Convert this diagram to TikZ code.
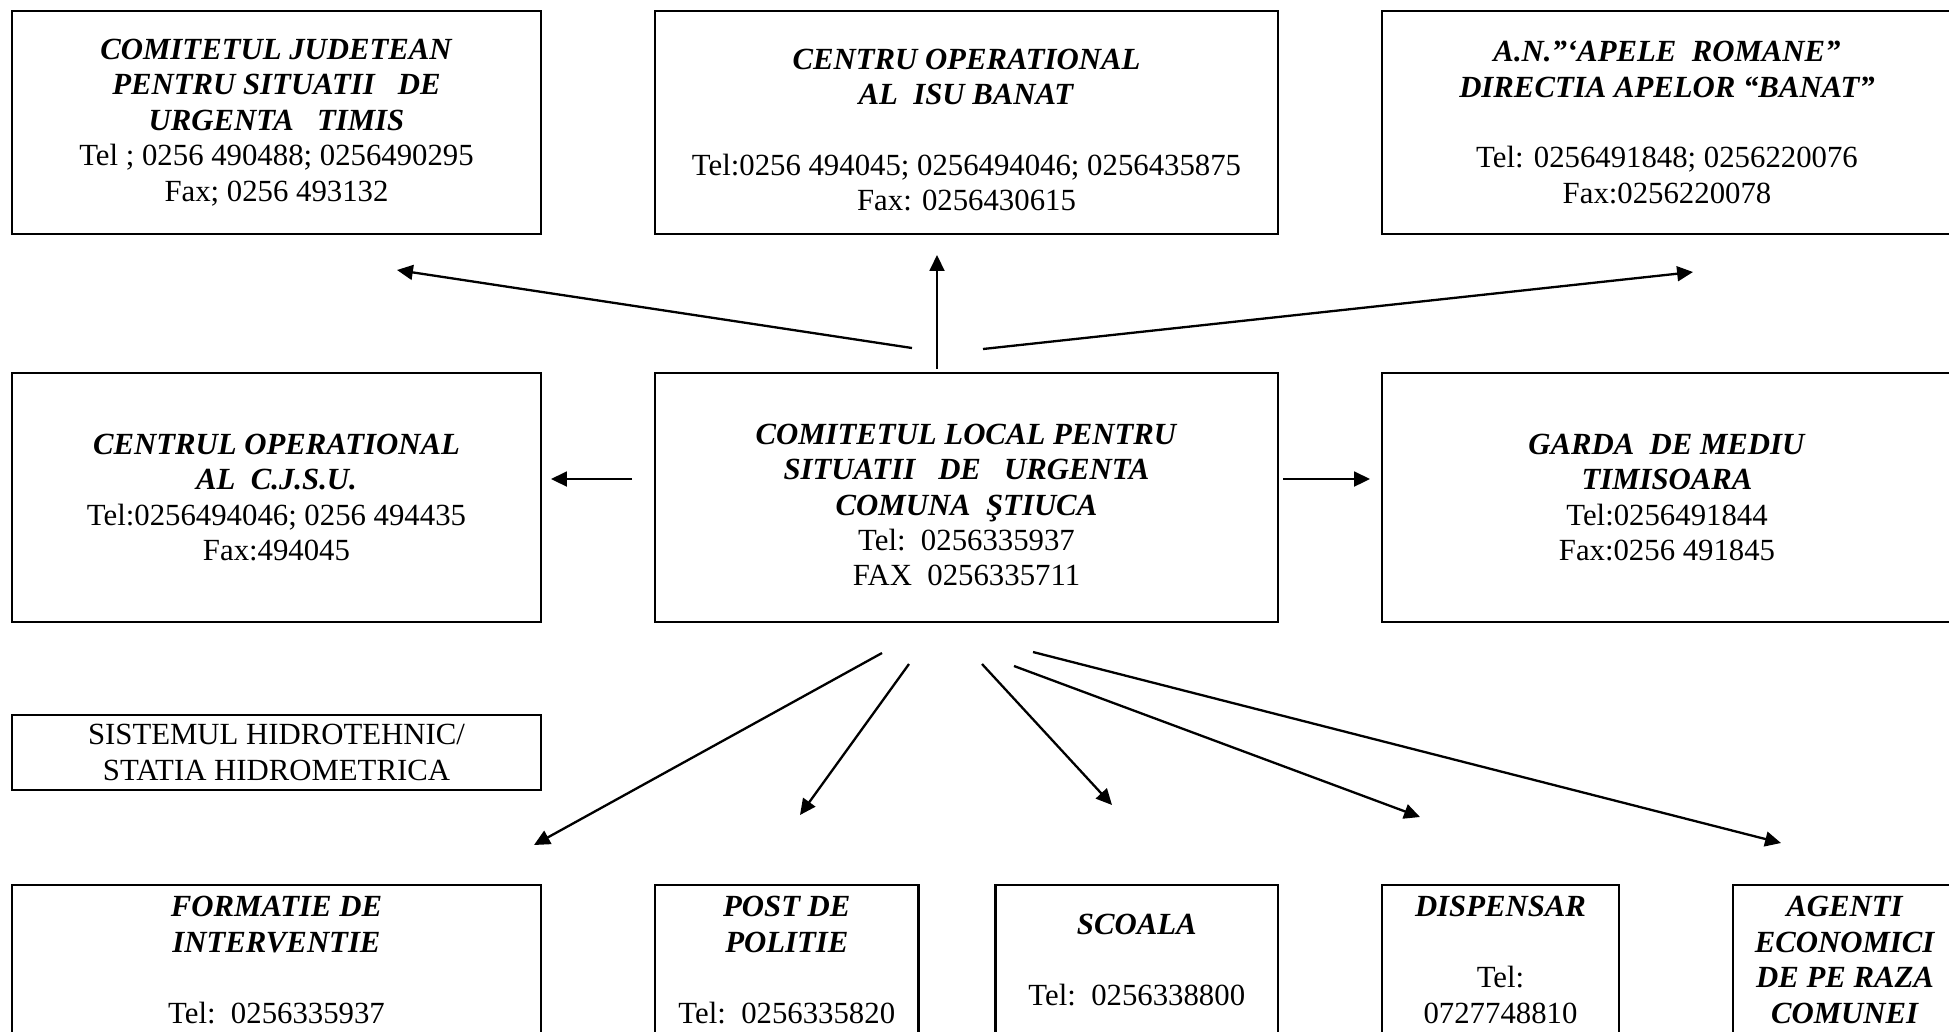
\documentclass[tikz,border=0pt]{standalone}
\usepackage{fontspec}
\setmainfont{Liberation Serif}
\usetikzlibrary{arrows.meta}
\newcommand{\bhi}[1]{\textbf{\textit{#1}}}
\tikzset{
  cutie/.style={draw,line width=1pt,inner sep=0pt,align=center,
    font=\fontsize{12pt}{13.8pt}\selectfont},
  sageata/.style={-{Triangle[length=6.2pt,width=5.8pt]},line width=0.9pt},
}
\begin{document}
\begin{tikzpicture}
\pgfsetxvec{\pgfpoint{0.39pt}{0}}
\pgfsetyvec{\pgfpoint{0}{-0.39pt}}
  \useasboundingbox (0,0) rectangle (1949,1031);
  \clip (0,0) rectangle (1949,1031);
  % top row
  \node[cutie,minimum width=206.3pt,minimum height=87pt] (judet) at (276.5,122.5)
    {\bhi{COMITETUL JUDETEAN}\\\bhi{PENTRU SITUATII\ \ \ DE}\\\bhi{URGENTA\ \ \ TIMIS}\\
     Tel ; 0256 490488; 0256490295\\Fax; 0256 493132};
  \node[cutie,minimum width=243pt,minimum height=87pt] (isu) at (966.5,122.5)
    {\mbox{}\\\bhi{CENTRU OPERATIONAL}\\\bhi{AL\ \ ISU BANAT}\\\mbox{}\\
     Tel:0256 494045; 0256494046; 0256435875\\Fax: 0256430615};
  \node[cutie,minimum width=222.3pt,minimum height=87pt] (apele) at (1667,122.5)
    {\bhi{A.N.”‘APELE\ \ ROMANE”}\\\bhi{DIRECTIA APELOR “BANAT”}\\\mbox{}\\
     Tel: 0256491848; 0256220076\\Fax:0256220078};
  % middle row
  \node[cutie,minimum width=206.3pt,minimum height=97.1pt] (cjsu) at (276.5,497.5)
    {\bhi{CENTRUL OPERATIONAL}\\\bhi{AL\ \ C.J.S.U.}\\
     Tel:0256494046; 0256 494435\\Fax:494045};
  \node[cutie,minimum width=243pt,minimum height=97.1pt] (local) at (966.5,497.5)
    {\mbox{}\\\bhi{COMITETUL LOCAL PENTRU}\\\bhi{SITUATII\ \ \ DE\ \ \ URGENTA}\\
     \bhi{COMUNA\ \ ŞTIUCA}\\Tel:\ \ 0256335937\\FAX\ \ 0256335711};
  \node[cutie,minimum width=222.3pt,minimum height=97.1pt] (garda) at (1667,497.5)
    {\bhi{GARDA\ \ DE MEDIU}\\\bhi{TIMISOARA}\\Tel:0256491844\\Fax:0256 491845};
  \node[cutie,minimum width=206.3pt,minimum height=29.25pt] (sistem) at (276.5,752.5)
    {SISTEMUL HIDROTEHNIC/\\STATIA HIDROMETRICA};
  % bottom row
  \node[cutie,minimum width=206.3pt,minimum height=58.5pt] (formatie) at (276.5,960)
    {\bhi{FORMATIE DE}\\\bhi{INTERVENTIE}\\\mbox{}\\Tel:\ \ 0256335937};
  \node[cutie,minimum width=102.8pt,minimum height=58.5pt] (politie) at (786.8,960)
    {\bhi{POST DE}\\\bhi{POLITIE}\\\mbox{}\\Tel:\ \ 0256335820};
  \node[cutie,minimum width=110.1pt,minimum height=58.5pt] (scoala) at (1136.8,960)
    {\bhi{SCOALA}\\\mbox{}\\Tel:\ \ 0256338800};
  \node[cutie,minimum width=92.4pt,minimum height=58.5pt] (dispensar) at (1500.5,960)
    {\bhi{DISPENSAR}\\\mbox{}\\Tel:\\0727748810};
  \node[cutie,minimum width=87.4pt,minimum height=58.5pt] (agenti) at (1845,960)
    {\bhi{AGENTI}\\\bhi{ECONOMICI}\\\bhi{DE PE RAZA}\\\bhi{COMUNEI}};
  % arrow ends
  \coordinate (jud0) at (912,348);   \coordinate (jud1) at (397,270);
  \coordinate (isu0) at (937,369);   \coordinate (isu1) at (937,255);
  \coordinate (ape0) at (983,349);   \coordinate (ape1) at (1693,272);
  \coordinate (cjs0) at (632,479);   \coordinate (cjs1) at (551,479);
  \coordinate (gar0) at (1283,479);  \coordinate (gar1) at (1370,479);
  \coordinate (for0) at (882,653);   \coordinate (for1) at (534,845);
  \coordinate (pol0) at (909,664);   \coordinate (pol1) at (800,815);
  \coordinate (sco0) at (982,664);   \coordinate (sco1) at (1112,805);
  \coordinate (dis0) at (1014,666);  \coordinate (dis1) at (1420,817);
  \coordinate (age0) at (1033,652);  \coordinate (age1) at (1781,843);
  % arrows
  \draw[sageata] (jud0)--(jud1);
  \draw[sageata] (isu0)--(isu1);
  \draw[sageata] (ape0)--(ape1);
  \draw[sageata] (cjs0)--(cjs1);
  \draw[sageata] (gar0)--(gar1);
  \draw[sageata] (for0)--(for1);
  \draw[sageata] (pol0)--(pol1);
  \draw[sageata] (sco0)--(sco1);
  \draw[sageata] (dis0)--(dis1);
  \draw[sageata] (age0)--(age1);
\end{tikzpicture}
\end{document}
